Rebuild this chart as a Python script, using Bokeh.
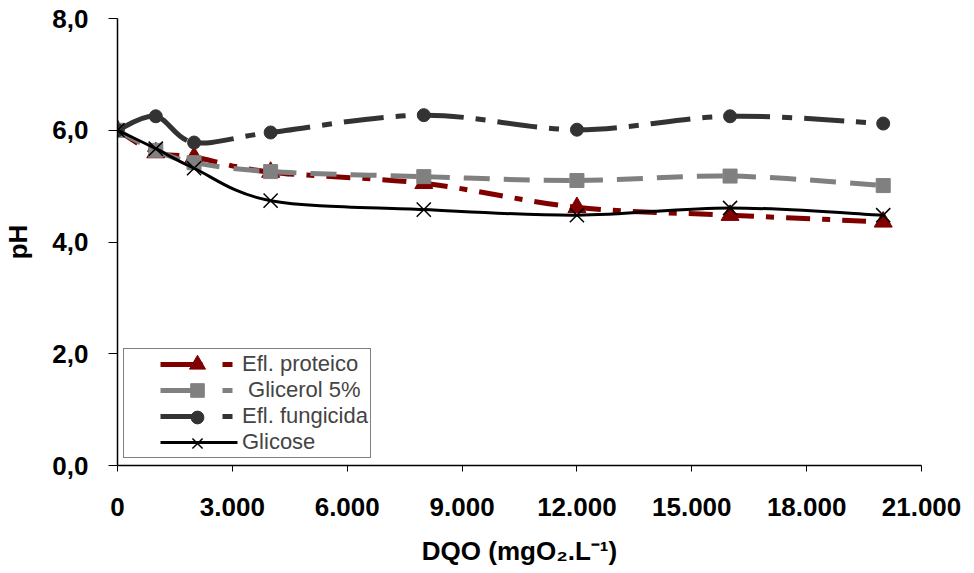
import numpy as np
from bokeh.plotting import figure
from bokeh.models import FixedTicker, Range1d, Legend, LegendItem, ColumnDataSource
from bokeh.embed import file_html
from bokeh.resources import INLINE

# ---- data ----
dqo = [0, 1000, 2000, 4000, 8000, 12000, 16000, 20000]
ph_proteico = [6.00, 5.60, 5.52, 5.25, 5.05, 4.62, 4.48, 4.36]
ph_glicerol = [6.00, 5.64, 5.42, 5.26, 5.17, 5.10, 5.18, 5.01]
ph_fungicida = [6.00, 6.25, 5.78, 5.96, 6.27, 6.01, 6.25, 6.12]
ph_glicose = [6.00, 5.67, 5.32, 4.74, 4.58, 4.48, 4.61, 4.48]

series_names = ["Efl. proteico", " Glicerol 5%", "Efl. fungicida", "Glicose"]

x_ticks = [0, 3000, 6000, 9000, 12000, 15000, 18000, 21000]
x_tick_labels = ["0", "3.000", "6.000", "9.000", "12.000", "15.000", "18.000", "21.000"]
y_ticks = [0, 2, 4, 6, 8]
y_tick_labels = ["0,0", "2,0", "4,0", "6,0", "8,0"]

FONT = "Liberation Sans"

p = figure(width=974, height=573, output_backend="svg", toolbar_location=None,
           x_range=Range1d(0, 21000), y_range=Range1d(0, 8),
           min_border_left=116, min_border_right=53, min_border_top=18, min_border_bottom=108)
p.outline_line_color = None
p.xgrid.visible = False
p.ygrid.visible = False
p.background_fill_color = "white"
p.border_fill_color = "white"


def smooth_segments(xs, ys):
    xs = np.asarray(xs, float)
    ys = np.asarray(ys, float)
    n = len(xs)
    x0, y0, x1, y1, cx0, cy0, cx1, cy1 = [], [], [], [], [], [], [], []
    for i in range(n - 1):
        im1 = max(i - 1, 0)
        ip2 = min(i + 2, n - 1)
        x0.append(xs[i]); y0.append(ys[i])
        x1.append(xs[i + 1]); y1.append(ys[i + 1])
        cx0.append(xs[i] + (xs[i + 1] - xs[im1]) / 6.0)
        cy0.append(ys[i] + (ys[i + 1] - ys[im1]) / 6.0)
        cx1.append(xs[i + 1] - (xs[ip2] - xs[i]) / 6.0)
        cy1.append(ys[i + 1] - (ys[ip2] - ys[i]) / 6.0)
    return ColumnDataSource(dict(x0=x0, y0=y0, x1=x1, y1=y1, cx0=cx0, cy0=cy0, cx1=cx1, cy1=cy1))


styles = [
    dict(y=ph_proteico, color="#800000", width=5, dash="24 12 8 12", marker="triangle", size=18, lw_m=1,
         leg_dash="42 20 10 300", leg_off=338, leg_glyph=40),
    dict(y=ph_glicerol, color="#808080", width=5, dash="26 14", marker="square", size=14, lw_m=1,
         leg_dash="42 20 10 300", leg_off=338, leg_glyph=34),
    dict(y=ph_fungicida, color="#333333", width=5, dash="40 12 10 12", marker="circle", size=13, lw_m=1,
         leg_dash="42 20 10 300", leg_off=338, leg_glyph=32),
    dict(y=ph_glicose, color="#000000", width=3, dash="solid", marker="x", size=20, lw_m=1.5,
         leg_dash="77 300", leg_off=343, leg_glyph=36),
]

# legend geometry (screen pixels, relative to the frame's bottom-left corner)
LEG_X, LEG_Y, LEG_PAD = 6, 7, 2
ROW_H = 26.3   # row height Bokeh gives a 22px label
MARK_CX = 80   # centre of the legend markers, from the frame's left edge

items = []
for i, (name, st) in enumerate(zip(series_names, styles)):
    src = smooth_segments(dqo, st["y"])
    p.bezier(x0="x0", y0="y0", x1="x1", y1="y1", cx0="cx0", cy0="cy0", cx1="cx1", cy1="cy1",
             source=src, line_color=st["color"], line_width=st["width"], line_dash=st["dash"])
    # legend-only line sample (one NaN point, draws nothing in the plot)
    leg_line = p.line(x=[dqo[0]], y=[float("nan")], line_color=st["color"], line_width=st["width"],
                      line_dash=st["leg_dash"], line_dash_offset=st["leg_off"])
    if st["marker"] == "x":
        m = p.scatter(dqo, st["y"], marker="x", size=st["size"], line_color=st["color"],
                      line_width=st["lw_m"])
    else:
        m = p.scatter(dqo, st["y"], marker=st["marker"], size=st["size"], fill_color=st["color"],
                      line_color=st["color"], line_width=st["lw_m"])
    items.append(LegendItem(label=name, renderers=[leg_line]))

    # marker of this legend row, drawn as its own borderless legend so it can be larger
    g = st["leg_glyph"]
    row_cy = LEG_Y + LEG_PAD + ROW_H * (len(styles) - 1 - i) + ROW_H / 2
    mleg = Legend(items=[LegendItem(label=" ", renderers=[m])],
                  location=(int(MARK_CX - g / 2), int(round(row_cy - g / 2))),
                  padding=0, margin=0, spacing=0, glyph_width=g, glyph_height=g,
                  label_height=g, label_width=1, label_standoff=0,
                  label_text_font_size="1px", border_line_alpha=0, background_fill_alpha=0)
    p.add_layout(mleg, "center")

legend = Legend(items=items, location=(LEG_X, LEG_Y), padding=LEG_PAD, margin=0, spacing=0,
                glyph_width=116, glyph_height=20, label_height=20, label_standoff=0,
                label_text_font=FONT, label_text_font_size="22px",
                border_line_color="#000000", border_line_width=1,
                background_fill_color="white", background_fill_alpha=1)
# keep the boxed legend under the marker legends
p.center.insert(0, legend)

# axes
for ax in (p.xaxis[0], p.yaxis[0]):
    ax.axis_line_color = "black"
    ax.axis_line_width = 1.5
    ax.major_tick_line_color = "black"
    ax.major_tick_line_width = 1
    ax.minor_tick_line_color = None
    ax.major_tick_in = 0
    ax.major_label_text_font = FONT
    ax.major_label_text_font_style = "bold"
    ax.major_label_text_font_size = "26px"
    ax.major_label_text_color = "black"
    ax.axis_label_text_font = FONT
    ax.axis_label_text_font_style = "bold"
    ax.axis_label_text_font_size = "26px"
    ax.axis_label_text_color = "black"

p.xaxis[0].ticker = FixedTicker(ticks=x_ticks)
p.xaxis[0].major_label_overrides = {t: l for t, l in zip(x_ticks, x_tick_labels)}
p.xaxis[0].major_tick_out = 6
p.xaxis[0].major_label_standoff = 26
p.xaxis[0].axis_label = "DQO (mgO₂.L⁻¹)"
p.xaxis[0].axis_label_standoff = 17

p.yaxis[0].ticker = FixedTicker(ticks=y_ticks)
p.yaxis[0].major_label_overrides = {t: l for t, l in zip(y_ticks, y_tick_labels)}
p.yaxis[0].major_tick_out = 9
p.yaxis[0].major_label_standoff = 20
p.yaxis[0].axis_label = "pH"
p.yaxis[0].axis_label_standoff = 16

open("out.html", "w").write(file_html(p, INLINE))
